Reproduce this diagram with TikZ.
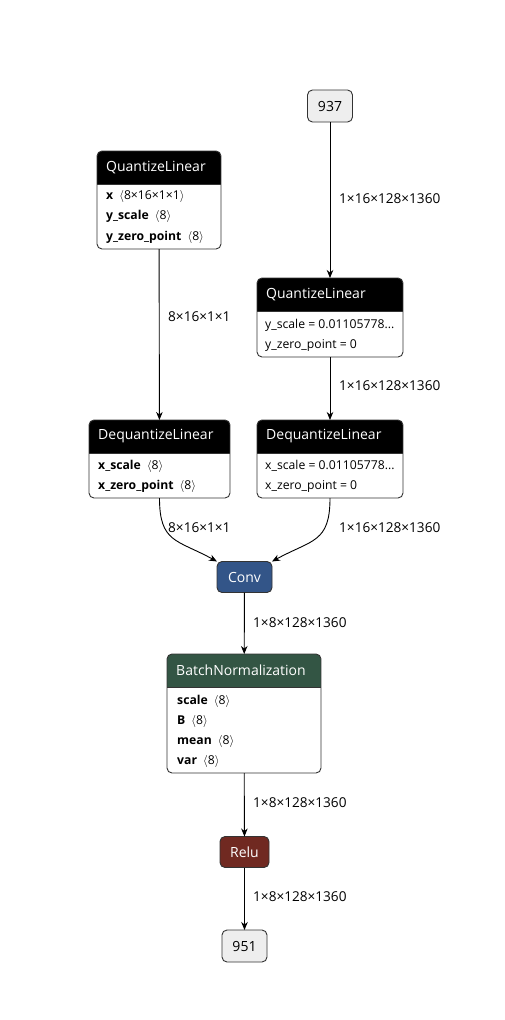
\documentclass[tikz,border=0pt]{standalone}
\usepackage{fontspec}
\setmainfont{Open Sans}
\usepackage{xcolor}
\usepackage{tikz}
\usetikzlibrary{arrows.meta,calc,positioning}
\definecolor{convblue}{RGB}{51,85,136}
\definecolor{normgreen}{RGB}{51,85,68}
\definecolor{relured}{RGB}{112,41,33}
\definecolor{framegray}{RGB}{51,51,51}
\definecolor{tensorgray}{RGB}{238,238,238}

\begin{document}
\begin{tikzpicture}[x=1pt,y=-1pt,
    opbox/.style={draw=none,fill=white,inner sep=0pt,outer sep=0pt},
    opline/.style={draw=framegray,line width=0.9pt},
    optitle/.style={text=white,font=\fontsize{14}{16}\selectfont,inner sep=0pt},
    oprow/.style={font=\fontsize{12.2}{14}\selectfont,inner sep=0pt},
    simple/.style={draw=framegray,line width=0.9pt,rounded corners=5pt,inner sep=0pt,outer sep=0pt,font=\fontsize{14}{16}\selectfont},
    tensor/.style={simple,fill=tensorgray,minimum width=45pt,minimum height=32pt},
    edge/.style={draw=black,line width=0.9pt,-{Stealth[length=8pt,width=6.5pt,inset=2.5pt]}},
    dim/.style={font=\fontsize{13.6}{15}\selectfont,inner sep=0pt,anchor=west}]
    \useasboundingbox[fill=white] (0,0) rectangle (505,1020);
    \def\headh{33}
    \def\opnode#1#2#3#4#5#6#7{%
      \node[opbox,minimum width=#4pt,minimum height=#5pt,anchor=north west] (#1) at (#2,#3) {};
      \begin{scope}
        \clip[rounded corners=5pt] (#1.north west) rectangle (#1.south east);
        \fill[#6] (#1.north west) rectangle ($(#1.north east)+(0,\headh)$);
      \end{scope}
      \draw[opline] ($(#1.north west)+(0,\headh)$) -- ($(#1.north east)+(0,\headh)$);
      \draw[opline,rounded corners=5pt] (#1.north west) rectangle (#1.south east);
      \node[optitle,anchor=west] (#1-title) at ($(#1.north west)+(9,\headh/2)$) {#7};
    }

    % input and quantize branch
    \node[tensor] (in937) at (330,106) {937};
    \opnode{qa}{97}{151}{124}{98}{black}{QuantizeLinear}
    \node[oprow,anchor=west] (qa-1) at (106,196) {\textbf{x}\enspace$\langle$8×16×1×1$\rangle$};
    \node[oprow,anchor=west] (qa-2) at (106,216) {\textbf{y\_scale}\enspace$\langle$8$\rangle$};
    \node[oprow,anchor=west] (qa-3) at (106,237) {\textbf{y\_zero\_point}\enspace$\langle$8$\rangle$};

    \opnode{qb}{257}{278}{146}{79}{black}{QuantizeLinear}
    \node[oprow,anchor=west] (qb-1) at (265,325) {y\_scale = 0.01105778...};
    \node[oprow,anchor=west] (qb-2) at (265,345) {y\_zero\_point = 0};

    % dequantize
    \opnode{dqa}{89}{420}{141}{78}{black}{DequantizeLinear}
    \node[oprow,anchor=west] (dqa-1) at (98,466) {\textbf{x\_scale}\enspace$\langle$8$\rangle$};
    \node[oprow,anchor=west] (dqa-2) at (98,486) {\textbf{x\_zero\_point}\enspace$\langle$8$\rangle$};

    \opnode{dqb}{257}{420}{146}{78}{black}{DequantizeLinear}
    \node[oprow,anchor=west] (dqb-1) at (265,466) {x\_scale = 0.01105778...};
    \node[oprow,anchor=west] (dqb-2) at (265,486) {x\_zero\_point = 0};

    % conv, bn, relu, output
    \node[simple,fill=convblue,text=white,minimum width=55pt,minimum height=31pt] (conv) at (244.5,577) {Conv};
    \opnode{bn}{167}{654}{154}{119}{normgreen}{BatchNormalization}
    \node[oprow,anchor=west] (bn-1) at (177,701) {\textbf{scale}\enspace$\langle$8$\rangle$};
    \node[oprow,anchor=west] (bn-2) at (177,721) {\textbf{B}\enspace$\langle$8$\rangle$};
    \node[oprow,anchor=west] (bn-3) at (177,741) {\textbf{mean}\enspace$\langle$8$\rangle$};
    \node[oprow,anchor=west] (bn-4) at (177,761) {\textbf{var}\enspace$\langle$8$\rangle$};
    \node[simple,fill=relured,text=white,minimum width=49pt,minimum height=31pt] (relu) at (244.5,852) {Relu};
    \node[tensor] (out951) at (244.5,946) {951};

    % connectors
    \draw[edge] (in937) -- (qb);
    \draw[edge] (qa) -- (dqa);
    \draw[edge] (qb) -- (dqb);
    \draw[edge] (dqa.south) .. controls +(0,45) and +(-40,-22) .. (conv.north west);
    \draw[edge] (dqb.south) .. controls +(0,45) and +(40,-22) .. (conv.north east);
    \draw[edge] (conv) -- (bn);
    \draw[edge] (bn) -- (relu);
    \draw[edge] (relu) -- (out951);

    % shapes on the connectors
    \node[dim] (d1) at (339,199) {1×16×128×1360};
    \node[dim] (d2) at (168,317) {8×16×1×1};
    \node[dim] (d3) at (339,386) {1×16×128×1360};
    \node[dim] (d4) at (168,528) {8×16×1×1};
    \node[dim] (d5) at (339,528) {1×16×128×1360};
    \node[dim] (d6) at (253,623) {1×8×128×1360};
    \node[dim] (d7) at (253,803) {1×8×128×1360};
    \node[dim] (d8) at (253,897) {1×8×128×1360};
  \end{tikzpicture}
\end{document}
